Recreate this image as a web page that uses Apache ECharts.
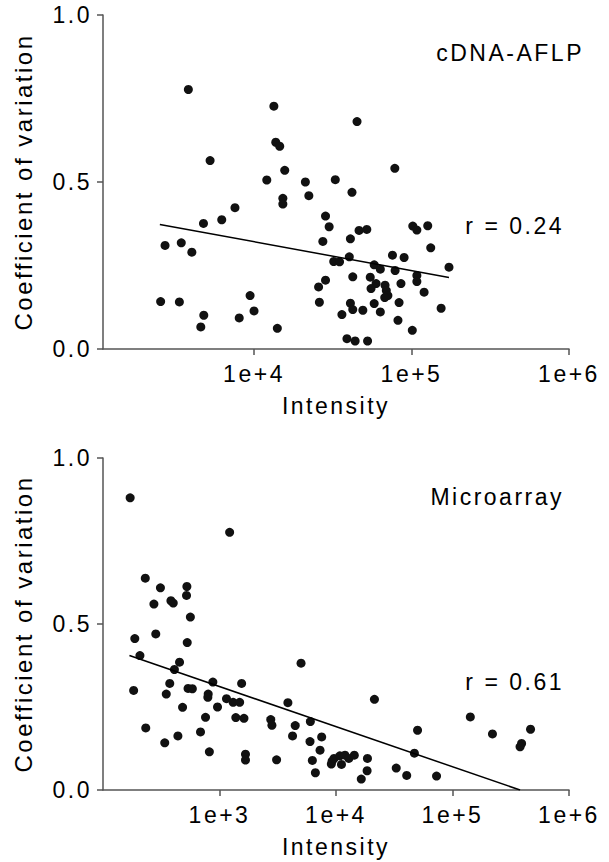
<!DOCTYPE html>
<html>
<head>
<meta charset="utf-8">
<title>Coefficient of variation vs intensity</title>
<script src="https://cdn.jsdelivr.net/npm/echarts@6/dist/echarts.min.js"></script>
<style>
  html, body { margin: 0; padding: 0; background: #fff; }
  #chart { width: 609px; height: 862px; }
  #chart svg text { letter-spacing: 2.5px; }
</style>
</head>
<body>
<div id="chart"></div>
<script>
// cDNA-AFLP panel: log10(intensity) and coefficient of variation
const aflpLogIntensity = [3.583,4.126,4.654,4.138,4.163,3.721,4.894,4.195,4.081,4.326,4.516,4.622,4.348,4.183,4.183,3.879,3.795,3.679,4.454,4.477,5.008,5.034,5.103,4.667,4.716,3.435,3.538,3.605,4.437,4.612,5.122,4.605,4.506,4.543,4.879,4.953,4.763,4.802,4.896,5.238,5.034,5.034,4.627,4.738,4.454,4.410,4.775,4.832,4.743,4.840,4.850,4.830,4.933,5.080,3.407,3.526,3.975,4.415,4.612,4.763,4.921,5.188,4.627,4.691,4.802,4.000,4.558,3.681,3.906,4.914,3.662,4.148,5.005,4.590,4.642,4.721]
const aflpCV = [0.777,0.727,0.681,0.619,0.607,0.564,0.541,0.535,0.506,0.500,0.507,0.469,0.459,0.451,0.434,0.423,0.387,0.376,0.398,0.366,0.368,0.356,0.369,0.355,0.358,0.310,0.318,0.290,0.322,0.330,0.303,0.276,0.262,0.261,0.281,0.274,0.252,0.239,0.235,0.245,0.220,0.202,0.216,0.215,0.206,0.186,0.196,0.191,0.181,0.175,0.160,0.154,0.196,0.170,0.142,0.141,0.160,0.140,0.137,0.136,0.139,0.122,0.118,0.116,0.111,0.114,0.103,0.101,0.093,0.086,0.066,0.062,0.056,0.031,0.024,0.024]
// regression line end points
const aflpFitLogIntensity = [3.402, 5.238]
const aflpFitCV = [0.373, 0.214]

// Microarray panel
const arrayLogIntensity = [2.233,3.087,2.363,2.493,2.720,2.717,2.437,2.583,2.603,2.750,2.453,2.273,2.723,2.317,2.657,2.613,3.700,2.573,2.943,3.190,2.263,2.543,2.730,2.767,2.903,2.900,3.060,3.117,3.173,4.330,3.587,2.683,2.983,2.880,3.140,3.210,3.440,3.450,3.650,3.780,5.153,5.670,4.700,5.343,2.367,2.837,2.643,3.627,3.877,2.530,3.777,5.593,5.580,2.913,3.863,4.673,3.223,3.223,3.490,3.797,3.967,3.960,3.983,4.033,4.077,4.110,4.157,4.047,4.270,4.267,3.823,4.517,4.607,4.863,4.217]
const arrayCV = [0.880,0.776,0.638,0.609,0.613,0.586,0.560,0.570,0.563,0.521,0.470,0.456,0.444,0.405,0.385,0.363,0.382,0.321,0.325,0.321,0.300,0.289,0.306,0.305,0.289,0.279,0.275,0.264,0.264,0.273,0.263,0.249,0.250,0.219,0.218,0.216,0.212,0.195,0.194,0.206,0.220,0.183,0.180,0.169,0.187,0.175,0.163,0.163,0.160,0.142,0.146,0.140,0.130,0.115,0.120,0.111,0.108,0.090,0.091,0.089,0.087,0.078,0.095,0.103,0.105,0.095,0.105,0.077,0.095,0.058,0.052,0.066,0.044,0.042,0.033]
const arrayFitLogIntensity = [2.227, 5.580]
const arrayFitCV = [0.405, 0.0]

// axis ticks
const aflpXTicks = [4, 5, 6]
const arrayXTicks = [3, 4, 5, 6]
const cvTicks = [0, 0.5, 1]

const font = "'Liberation Sans', Arial, sans-serif"
const ink = '#111'
const textInk = '#000'
const axisInk = '#555'

function pairs(xs, ys) {
  return xs.map((x, i) => [x, ys[i]])
}

function xAxisFor(gridIndex, min, ticks) {
  return {
    type: 'value',
    gridIndex: gridIndex,
    min: min,
    max: 6,
    name: 'Intensity',
    nameLocation: 'middle',
    nameGap: 45,
    nameTextStyle: { fontFamily: font, fontSize: 23, color: textInk },
    axisLine: { show: true, onZero: false, lineStyle: { color: axisInk, width: 1.5 } },
    axisTick: { show: true, inside: false, length: 6, customValues: ticks, lineStyle: { color: axisInk, width: 1.5 } },
    axisLabel: {
      customValues: ticks,
      margin: 13,
      fontFamily: font,
      fontSize: 23,
      color: textInk,
      formatter: v => '1e+' + Math.round(v)
    },
    splitLine: { show: false }
  }
}

function yAxisFor(gridIndex) {
  return {
    type: 'value',
    gridIndex: gridIndex,
    min: 0,
    max: 1,
    name: 'Coefficient of variation',
    nameLocation: 'middle',
    nameGap: 68,
    nameTextStyle: { fontFamily: font, fontSize: 24, color: textInk },
    axisLine: { show: true, onZero: false, lineStyle: { color: axisInk, width: 1.5 } },
    axisTick: { show: true, inside: false, length: 6, customValues: cvTicks, lineStyle: { color: axisInk, width: 1.5 } },
    axisLabel: {
      customValues: cvTicks,
      margin: 11,
      fontFamily: font,
      fontSize: 23,
      color: textInk,
      formatter: v => v.toFixed(1)
    },
    splitLine: { show: false }
  }
}

function dots(index, xs, ys) {
  return {
    type: 'scatter',
    xAxisIndex: index,
    yAxisIndex: index,
    symbol: 'circle',
    symbolSize: 9,
    itemStyle: { color: ink, opacity: 1 },
    silent: true,
    data: pairs(xs, ys)
  }
}

function fit(index, xs, ys) {
  return {
    type: 'line',
    xAxisIndex: index,
    yAxisIndex: index,
    showSymbol: false,
    silent: true,
    lineStyle: { color: '#000', width: 1.5 },
    data: pairs(xs, ys)
  }
}

function label(text, x, y) {
  return {
    type: 'text',
    x: x,
    y: y,
    style: {
      text: text,
      fontFamily: font,
      fontSize: 23,
      fill: textInk,
      textAlign: 'right',
      textVerticalAlign: 'middle'
    }
  }
}

const chart = echarts.init(document.getElementById('chart'), null, { renderer: 'svg' })

chart.setOption({
  backgroundColor: '#fff',
  animation: false,
  grid: [
    { left: 103, top: 15, width: 466, height: 334 },
    { left: 103, top: 458, width: 466, height: 332 }
  ],
  xAxis: [
    xAxisFor(0, 3.041, aflpXTicks),
    xAxisFor(1, 2, arrayXTicks)
  ],
  yAxis: [yAxisFor(0), yAxisFor(1)],
  graphic: [
    label('cDNA-AFLP', 584, 53),
    label('r = 0.24', 564, 226),
    label('Microarray', 564, 497),
    label('r = 0.61', 564, 682)
  ],
  series: [
    dots(0, aflpLogIntensity, aflpCV),
    fit(0, aflpFitLogIntensity, aflpFitCV),
    dots(1, arrayLogIntensity, arrayCV),
    fit(1, arrayFitLogIntensity, arrayFitCV)
  ]
})
</script>
</body>
</html>
